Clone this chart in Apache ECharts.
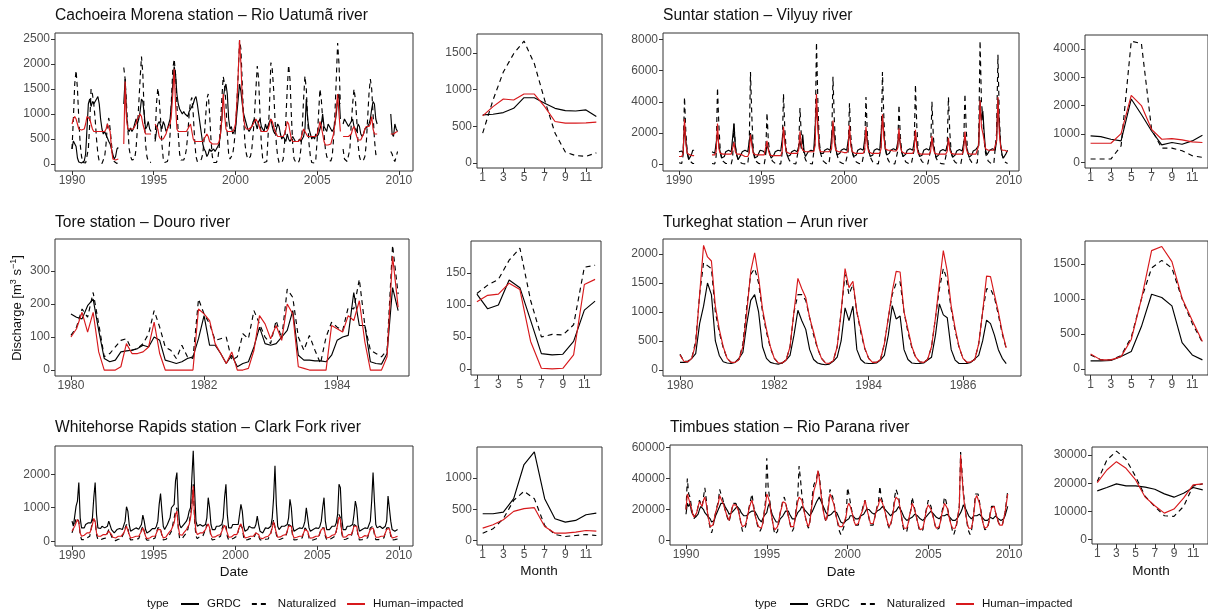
<!DOCTYPE html>
<html>
<head>
<meta charset="utf-8">
<title>Discharge</title>
<script src="https://cdn.jsdelivr.net/npm/echarts@6/dist/echarts.min.js"></script>
<style>
html,body{margin:0;padding:0;background:#fff}
#chart{width:1208px;height:613px}
</style>
</head>
<body>
<div id="chart"></div>
<script>
// ---- data (monthly) ----
var seriesNames = ['GRDC', 'Naturalized', 'Human−impacted'];
var months = [1,2,3,4,5,6,7,8,9,10,11,12];
var monthTicks = [1,3,5,7,9,11];
var yearTicks90 = [1990,1995,2000,2005,2010];
var yearTicksTore = [1980,1982,1984];
var yearTicksTurk = [1980,1982,1984,1986];

// Cachoeira Morena - Rio Uatuma, 1990-2009
var cachoeiraStart = 1990;
var cachoeiraGrdc = [
  300,460,480,350,120,40,25,20,30,60,200,700,
  1200,1300,1150,1250,1200,1250,1300,1350,1200,900,700,600,
  650,580,520,450,400,300,180,100,150,300,330,null,
  null,null,1200,1700,1000,700,650,720,650,700,680,900,
  800,900,1050,1300,1250,1000,700,750,850,700,650,null,
  null,450,650,800,850,780,700,850,780,650,700,800,
  900,1200,1600,1950,1800,1400,1200,1100,1050,1000,1050,1000,
  1000,950,1050,1100,1150,1200,1300,1350,1200,1000,800,600,
  400,300,250,150,200,300,250,280,300,250,300,350,
  400,600,900,1300,1500,1600,1400,900,700,750,600,650,
  700,1000,1300,1600,1450,1200,1000,900,800,700,650,700,
  750,850,900,800,700,850,900,750,700,650,800,700,
  700,850,900,750,650,600,700,800,750,600,500,550,
  500,450,600,500,450,500,550,500,450,480,450,500,
  450,500,550,700,1300,900,700,600,500,550,500,600,
  550,600,700,800,1000,750,700,650,800,750,700,650,
  700,800,1000,1300,1400,900,null,800,900,850,800,750,
  800,850,900,750,700,650,800,750,600,550,600,700,
  700,750,800,900,1100,1250,1200,900,800,null,null,null,
  null,null,null,null,null,null,1000,600,550,800,700,650
];
var cachoeiraNat = [
  300,900,1600,1870,1500,900,400,150,30,10,20,60,
  300,800,1500,1400,1200,900,500,200,50,10,10,30,
  150,400,800,920,700,400,150,50,20,10,50,null,
  null,null,1930,1700,1200,700,300,150,80,60,100,300,
  700,1200,1700,2150,1800,1000,400,150,50,20,30,null,
  null,500,1200,1520,1300,900,400,100,30,20,50,150,
  600,1300,1900,2100,1800,1200,600,200,80,50,80,150,
  300,600,1000,1250,1330,1000,500,150,50,30,50,100,
  200,500,900,1300,1400,1000,500,150,30,20,30,100,
  300,800,1300,1750,1600,1200,600,200,100,150,200,400,
  700,1200,1800,2480,2300,1600,900,400,200,100,80,150,
  300,600,1000,1500,1960,1700,1000,400,100,30,20,50,
  600,1200,2030,1900,1500,900,400,150,30,20,20,100,
  400,900,1500,1980,1700,1000,400,100,50,30,20,80,
  300,700,1300,1760,1500,900,400,150,30,10,20,100,
  500,1000,1500,1300,900,600,300,150,80,50,60,150,
  500,1000,1700,2420,2000,1200,null,300,100,60,50,80,
  300,800,1200,1500,1300,900,400,150,60,50,80,150,
  400,900,1400,1700,1500,1000,500,200,100,null,null,null,
  null,null,null,null,null,null,250,200,100,50,150,250
];
var cachoeiraHum = [
  800,900,950,900,800,700,680,680,680,700,800,950,
  950,900,800,700,650,650,650,650,650,650,650,650,
  650,700,800,800,650,300,100,80,80,100,100,null,
  null,null,400,1650,900,700,700,700,700,700,700,800,
  900,950,1000,950,800,700,600,600,600,600,600,null,
  null,800,800,700,550,500,500,500,550,600,700,700,
  800,1000,1400,1900,1200,700,650,650,650,650,650,650,
  650,700,750,800,650,500,450,450,450,450,450,450,
  450,500,550,600,550,450,420,400,400,400,400,400,
  450,600,900,1400,1000,700,650,650,650,650,650,700,
  800,1200,1800,2480,2000,1300,900,750,700,700,700,700,
  750,800,850,900,900,800,700,650,650,650,650,650,
  700,800,900,850,750,650,600,550,550,550,550,550,
  600,700,850,800,650,500,450,450,450,450,450,450,
  500,600,700,700,600,550,550,550,550,550,550,550,
  600,700,850,750,600,450,380,380,380,380,400,500,
  600,800,1100,1400,1000,650,null,550,550,550,550,550,
  550,600,700,750,650,550,480,480,480,500,600,700,
  750,750,750,800,950,700,600,580,600,null,null,null,
  null,null,null,null,null,null,600,600,600,620,640,650
];
var cachoeiraClimGrdc = [655,664,687,745,890,890,813,745,714,709,723,633];
var cachoeiraClimNat = [407,858,1242,1491,1663,1355,858,407,149,99,90,136];
var cachoeiraClimHum = [642,768,872,858,940,940,768,565,542,542,547,556];
var cachoeiraTicks = [0,500,1000,1500,2000,2500];
var cachoeiraClimTicks = [0,500,1000,1500];

// Suntar - Vilyuy, 1990-2009
var suntarStart = 1990;
var suntarGrdc = [
  800,900,850,700,2500,1500,700,300,400,600,900,900,
  null,null,null,null,null,null,null,null,null,null,null,null,
  800,750,700,600,2000,1200,800,400,300,500,800,900,
  900,850,800,700,2600,1100,600,300,400,600,800,900,
  900,850,800,700,2000,1500,800,400,350,500,700,900,
  900,850,800,700,1200,1000,700,400,450,600,800,900,
  900,900,850,800,2200,1500,800,500,500,600,800,900,
  900,850,800,700,1500,1000,1900,800,500,600,800,900,
  900,900,850,800,3800,2500,1200,700,600,700,900,1000,
  1000,950,900,800,2600,1800,1000,600,500,700,900,1000,
  1000,950,900,800,2000,1300,800,500,400,600,900,1000,
  1000,950,900,800,2200,1500,900,500,400,600,900,1000,
  1000,950,900,800,3000,2000,1000,600,500,700,900,1000,
  1000,950,900,800,1800,1300,800,500,450,650,900,1000,
  1000,950,900,800,1800,1300,800,500,400,600,900,1000,
  1000,950,900,800,1600,1200,800,450,400,600,850,950,
  950,900,850,800,1500,1100,800,450,400,600,850,950,
  950,900,850,800,1800,1200,800,450,400,600,850,950,
  950,1000,1200,4100,2800,3400,2000,900,600,700,900,1000,
  1000,950,900,1500,4200,2500,1200,600,400,500,700,900
];
var suntarNat = [
  100,50,50,600,4300,2000,800,400,200,100,50,50,
  null,null,null,null,null,null,null,null,null,null,null,null,
  50,20,20,500,4900,2500,900,400,200,100,50,50,
  50,20,20,400,2600,1200,600,300,150,80,50,30,
  30,20,20,800,5900,3000,1000,500,200,100,50,30,
  30,20,20,500,3300,1500,700,400,200,100,50,30,
  30,20,20,700,4500,2200,900,500,300,150,80,50,
  30,20,20,1000,3600,1800,1500,600,300,150,80,50,
  30,20,20,1500,7800,4000,1500,700,400,200,100,50,
  30,20,20,1200,5600,2800,1100,600,300,150,80,50,
  30,20,20,800,3900,1800,800,500,300,150,80,50,
  30,20,20,900,4300,2000,900,500,300,150,80,50,
  30,20,20,1200,5900,3000,1200,600,300,150,80,50,
  30,20,20,800,3800,1800,800,500,300,150,80,50,
  30,20,20,900,5100,2400,900,500,300,150,80,50,
  30,20,20,900,4000,1800,800,400,250,120,60,40,
  30,20,20,900,4300,2000,800,400,250,120,60,40,
  30,20,20,1000,4500,2100,800,400,250,120,60,40,
  30,100,1500,7900,4000,3000,1500,700,400,200,100,50,
  30,20,20,2000,7000,3000,1200,600,300,150,80,50
];
var suntarHum = [
  500,500,500,700,2900,1300,700,600,600,550,550,550,
  null,null,null,null,null,null,null,null,null,null,null,null,
  600,600,600,800,2600,1000,700,650,650,650,650,650,
  650,650,650,700,1400,800,650,650,650,650,600,550,
  500,500,500,700,1900,1200,700,600,600,600,600,600,
  600,600,600,700,1500,900,600,550,550,550,550,550,
  550,550,550,800,2400,1400,800,700,700,700,700,700,
  700,700,700,900,2100,1200,900,800,800,800,800,800,
  800,800,800,1200,4500,2400,1000,800,800,800,800,800,
  800,800,800,1000,2800,1400,900,800,800,800,800,800,
  750,750,750,900,2500,1200,800,700,700,700,700,700,
  700,700,700,900,2400,1200,800,700,700,700,700,700,
  700,700,700,1000,3200,1800,1000,900,900,900,900,900,
  850,850,850,1000,2300,1200,800,700,700,700,700,700,
  700,700,700,900,2200,1100,700,650,650,650,650,650,
  650,650,650,800,1800,1000,700,650,650,650,650,650,
  650,650,650,800,1700,900,700,650,650,650,650,650,
  650,650,650,900,2100,1000,700,650,650,650,650,650,
  650,700,1200,4100,2400,2000,1500,1000,900,900,900,900,
  900,900,900,1500,4300,2000,1100,900,900,900,850,800
];
var suntarClimGrdc = [933,909,816,758,2239,1690,1108,618,700,641,758,956];
var suntarClimNat = [117,117,117,583,4280,4200,1166,501,501,408,233,175];
var suntarClimHum = [676,676,676,1014,2367,2006,1166,816,840,793,723,700];
var suntarTicks = [0,2000,4000,6000,8000];
var suntarClimTicks = [0,1000,2000,3000,4000];

// Tore - Douro, 1980-1984
var toreStart = 1980;
var toreGrdc = [
  170,160,155,195,215,120,35,25,30,55,58,60,
  65,75,70,100,90,30,25,20,25,35,40,95,
  165,75,75,50,20,45,10,20,25,70,130,80,
  75,80,100,120,180,45,30,30,28,28,25,45,
  90,100,105,235,135,135,25,20,18,50,250,180
];
var toreNat = [
  105,130,185,160,235,140,40,50,70,90,95,60,
  65,80,110,180,130,70,60,35,75,40,35,215,
  170,140,90,95,100,30,40,110,95,180,140,100,
  80,150,95,245,220,100,60,105,60,20,100,145,
  130,120,190,185,275,135,60,50,40,60,378,230
];
var toreHum = [
  100,125,175,115,175,55,0,0,0,10,80,50,
  50,55,70,145,50,0,0,0,0,0,0,185,
  170,150,80,50,20,55,0,0,5,60,165,140,
  95,135,90,200,170,10,5,0,0,0,0,135,
  125,115,165,150,210,85,0,0,0,40,345,190
];
var toreClimGrdc = [117,94,100,139,127,76,24,22,23,43,92,106];
var toreClimNat = [118,131,140,170,189,107,50,54,53,69,159,162];
var toreClimHum = [105,115,117,134,124,43,1,0,1,22,132,140];
var toreTicks = [0,100,200,300];
var toreClimTicks = [0,50,100,150];

// Turkeghat - Arun, 1980-1986
var turkStart = 1980;
var turkGrdc = [
  130,130,140,200,280,800,1100,1500,1300,500,250,140,
  120,110,130,200,300,800,1200,1300,1000,400,200,130,
  110,100,120,170,250,600,1030,850,700,350,180,120,
  100,90,100,150,220,500,1070,850,1100,350,180,120,
  110,110,120,170,250,600,1110,880,930,350,180,120,
  110,110,120,170,220,600,1140,950,900,350,170,110,
  110,110,130,190,250,500,860,800,600,350,200,110
];
var turkNat = [
  270,150,150,200,500,1300,1850,1800,1750,1000,650,380,
  200,130,130,180,450,1100,1650,1750,1500,1000,650,380,
  200,120,120,170,400,1000,1300,1300,1200,900,600,370,
  200,120,110,160,400,1000,1650,1300,1480,1000,650,370,
  200,130,130,180,450,900,1300,1500,1520,1000,650,380,
  210,140,130,180,400,900,1400,1750,1550,1050,680,390,
  200,130,140,180,450,1000,1400,1400,1250,950,620,370
];
var turkHum = [
  260,150,140,200,450,1300,2150,1950,1880,1100,700,400,
  200,130,130,180,400,1000,1700,2020,1600,1050,700,400,
  200,120,120,170,400,1000,1580,1400,1250,900,650,380,
  200,120,110,160,400,1000,1750,1420,1530,1000,700,380,
  200,130,130,180,450,900,1350,1700,1690,1000,700,400,
  220,140,130,180,400,900,1500,2060,1700,1100,720,400,
  200,130,140,180,450,1000,1620,1610,1300,1000,650,380
];
var turkClimGrdc = [114,114,120,176,248,605,1067,1019,900,376,200,129];
var turkClimNat = [200,130,130,190,450,1000,1440,1550,1440,1000,650,380];
var turkClimHum = [214,129,129,176,420,1000,1690,1748,1533,1010,690,390];
var turkTicks = [0,500,1000,1500,2000];
var turkClimTicks = [0,500,1000,1500];

// Whitehorse Rapids - Clark Fork, 1990-2009
var whiteStart = 1990;
var whiteGrdc = [
  600,450,500,1050,1200,1750,700,400,350,400,500,550,
  550,500,550,700,1300,1750,800,400,350,380,450,400,
  400,380,450,600,550,350,300,250,300,350,400,380,
  350,350,400,600,1030,900,500,300,300,350,400,400,
  380,360,400,500,780,600,350,250,250,300,350,380,
  400,380,450,600,1100,1420,900,450,350,400,500,550,
  700,1000,1000,1100,1800,2050,1000,500,400,450,500,550,
  600,700,900,1000,1900,2700,1500,600,450,450,500,500,
  450,450,500,700,1300,1000,500,350,300,350,450,450,
  450,450,500,700,1300,1700,800,400,350,400,500,500,
  500,450,500,800,1100,900,450,300,300,350,450,450,
  400,380,400,500,750,500,300,250,250,300,400,350,
  380,400,450,700,1300,2250,1100,450,350,400,450,450,
  450,450,500,700,1250,1000,450,300,300,350,400,400,
  400,380,450,600,1000,700,400,300,300,350,400,400,
  400,380,450,600,1000,1300,600,350,300,350,400,450,
  450,450,550,800,1700,1600,700,350,300,350,450,450,
  450,420,500,800,1200,1000,500,300,300,350,400,400,
  380,380,400,600,1200,2050,1200,500,400,400,450,400,
  380,400,450,600,1350,1300,600,350,300,300,350,350
];
var whiteNat = [
  250,300,500,700,750,600,200,50,30,50,80,100,
  100,150,350,650,700,600,200,50,30,50,80,80,
  80,100,250,350,300,150,50,20,20,40,60,60,
  60,100,250,400,500,400,150,40,30,50,70,70,
  60,80,200,350,450,300,100,30,20,40,60,60,
  60,100,250,400,450,400,150,40,30,60,100,150,
  200,300,500,700,900,1000,400,80,50,80,150,200,
  250,350,550,800,1100,1700,600,150,80,100,150,150,
  150,180,350,500,550,400,120,40,30,60,100,100,
  120,150,350,500,550,500,150,40,30,60,100,100,
  100,150,300,500,550,400,120,30,20,50,80,80,
  70,80,150,250,250,150,50,20,20,40,60,60,
  70,100,250,450,650,600,200,50,30,60,100,100,
  100,150,300,500,550,450,150,40,30,50,80,80,
  70,100,250,400,400,300,100,30,20,40,70,70,
  70,100,250,400,450,400,150,40,30,50,80,100,
  100,150,300,550,800,700,250,50,30,60,100,100,
  100,150,300,500,550,450,150,40,30,50,80,80,
  70,100,250,400,450,450,200,50,30,50,80,80,
  70,100,250,400,450,400,150,40,30,50,70,70
];
var whiteHum = [
  300,350,450,550,650,550,250,150,150,180,200,250,
  250,250,350,500,680,600,250,150,120,150,180,200,
  200,200,250,300,280,200,120,100,100,120,150,150,
  150,150,250,350,450,400,200,100,100,120,150,150,
  150,150,200,300,400,300,150,80,80,100,130,150,
  150,150,250,350,380,350,200,100,100,130,180,250,
  300,350,450,550,800,900,450,200,150,180,250,300,
  350,400,500,700,1000,1650,700,300,200,200,250,250,
  250,250,350,450,520,400,200,120,100,130,170,180,
  200,200,300,400,480,500,250,120,100,130,180,200,
  200,200,300,450,520,400,200,100,100,120,150,150,
  150,150,200,250,250,200,100,80,80,100,130,150,
  150,150,250,400,580,550,250,120,100,130,170,180,
  180,200,300,450,500,450,200,100,100,120,150,150,
  150,150,250,350,350,300,150,90,90,110,140,150,
  150,150,250,350,400,400,200,100,100,120,150,180,
  200,200,300,500,720,650,300,120,100,130,180,200,
  200,200,300,450,500,450,200,100,100,120,160,170,
  150,150,250,350,400,400,250,120,100,120,150,150,
  150,150,250,350,400,380,200,100,100,120,140,150
];
var whiteClimGrdc = [428,428,454,669,1215,1417,669,348,294,321,412,438];
var whiteClimNat = [117,187,348,642,786,669,241,96,64,80,96,80];
var whiteClimHum = [198,252,332,465,509,525,225,117,117,134,160,150];
var whiteTicks = [0,1000,2000];
var whiteClimTicks = [0,500,1000];

// Timbues - Rio Parana, 1990-2009
var timbuesStart = 1990;
var timbuesGrdc = [
  17000,24000,22000,24000,19000,17000,16000,15000,14000,17000,20000,22000,
  22000,20000,18000,17000,16000,15000,14000,12000,11000,13000,16000,18000,
  20000,22000,24000,25000,24000,22000,21000,19000,17000,16000,18000,19000,
  20000,21000,22000,21000,20000,18000,17000,16000,15000,16000,17000,18000,
  18000,19000,20000,19000,18000,16000,14000,13000,12000,14000,16000,17000,
  18000,22000,24000,20000,17000,15000,14000,12000,11000,12000,14000,15000,
  16000,17000,19000,20000,19000,17000,16000,14000,13000,14000,16000,18000,
  19000,20000,22000,21000,20000,19000,18000,17000,16000,17000,19000,21000,
  23000,25000,26000,28000,27000,24000,22000,20000,18000,17000,16000,16000,
  17000,18000,19000,20000,18000,16000,14000,12000,11000,11000,12000,13000,
  13000,14000,16000,17000,16000,15000,14000,14000,14000,15000,16000,17000,
  17000,18000,20000,21000,20000,19000,18000,17000,17000,18000,19000,20000,
  20000,21000,22000,21000,20000,19000,18000,17000,16000,17000,18000,19000,
  19000,20000,22000,21000,19000,17000,15000,14000,13000,13000,14000,15000,
  15000,16000,17000,17000,16000,15000,14000,13000,13000,14000,15000,16000,
  17000,18000,19000,18000,17000,16000,15000,14000,14000,15000,16000,16000,
  16000,17000,17000,16000,15000,14000,13000,13000,13000,14000,15000,16000,
  18000,20000,23000,22000,20000,18000,16000,15000,14000,15000,16000,16000,
  16000,17000,17000,16000,15000,14000,13000,13000,13000,14000,15000,15000,
  14000,15000,16000,15000,14000,13000,13000,13000,14000,16000,19000,22000
];
var timbuesNat = [
  20000,40000,30000,28000,22000,16000,14000,15000,18000,22000,26000,25000,
  22000,28000,34000,27000,18000,12000,8000,5000,8000,14000,18000,22000,
  25000,33000,30000,28000,24000,20000,17000,14000,12000,16000,20000,24000,
  25000,24000,23000,20000,15000,10000,6000,5000,8000,12000,18000,22000,
  26000,30000,24000,18000,14000,10000,8000,6000,5000,10000,18000,25000,
  53000,35000,28000,20000,14000,8000,4000,3000,6000,12000,18000,22000,
  26000,28000,25000,20000,16000,12000,8000,6000,8000,14000,22000,28000,
  48000,40000,30000,24000,18000,14000,10000,8000,12000,20000,30000,36000,
  38000,40000,45000,42000,34000,26000,20000,15000,12000,16000,25000,33000,
  30000,28000,24000,18000,14000,10000,6000,4000,5000,8000,12000,16000,
  34000,30000,25000,20000,16000,12000,10000,9000,10000,14000,18000,20000,
  24000,26000,22000,18000,14000,10000,9000,10000,14000,18000,22000,25000,
  35000,28000,25000,22000,18000,14000,10000,8000,10000,14000,20000,28000,
  33000,32000,28000,22000,16000,10000,6000,5000,6000,10000,16000,20000,
  28000,24000,20000,16000,12000,8000,6000,5000,7000,12000,18000,22000,
  26000,24000,22000,18000,14000,10000,7000,6000,8000,12000,18000,22000,
  28000,26000,22000,18000,14000,10000,6000,4000,5000,10000,16000,22000,
  57000,45000,32000,24000,16000,10000,6000,4000,6000,12000,20000,30000,
  31000,30000,25000,20000,14000,10000,7000,6000,8000,12000,18000,22000,
  23000,22000,18000,15000,12000,10000,9000,10000,14000,18000,25000,32000
];
var timbuesHum = [
  20000,30000,27000,26000,21000,17000,15000,15000,18000,22000,25000,24000,
  22000,26000,28000,24000,18000,13000,9000,8000,10000,14000,18000,21000,
  24000,29000,27000,26000,23000,20000,17000,15000,13000,16000,20000,23000,
  24000,23000,22000,19000,15000,11000,9000,9000,10000,13000,17000,21000,
  24000,26000,22000,18000,14000,11000,9000,8000,8000,11000,17000,22000,
  30000,28000,25000,19000,14000,9000,7000,7000,9000,13000,18000,21000,
  25000,26000,24000,20000,16000,12000,9000,8000,9000,14000,20000,25000,
  28000,28000,26000,22000,18000,14000,11000,9000,12000,19000,26000,32000,
  35000,38000,45000,40000,32000,25000,19000,15000,13000,16000,23000,30000,
  28000,27000,23000,18000,14000,11000,9000,8000,9000,10000,13000,16000,
  22000,24000,22000,19000,16000,12000,10000,10000,11000,14000,17000,19000,
  22000,26000,22000,18000,15000,11000,10000,11000,14000,18000,21000,23000,
  27000,26000,24000,21000,18000,14000,11000,9000,11000,14000,19000,25000,
  28000,29000,26000,21000,16000,11000,8000,7000,8000,11000,16000,19000,
  24000,22000,19000,16000,12000,9000,7000,7000,8000,12000,17000,21000,
  23000,22000,20000,17000,14000,10000,8000,7000,9000,12000,17000,20000,
  24000,25000,21000,17000,13000,10000,8000,7000,8000,11000,16000,21000,
  55000,42000,30000,22000,16000,11000,8000,7000,8000,12000,19000,27000,
  29000,28000,24000,19000,14000,10000,8000,7000,9000,12000,17000,21000,
  22000,22000,18000,15000,12000,10000,9000,10000,14000,18000,24000,30000
];
var timbuesClimGrdc = [17290,18500,19760,19060,19060,18600,17880,16230,15060,16470,18470,17650];
var timbuesClimNat = [20580,28230,31400,28460,22350,15300,11760,8470,8240,11760,19060,19760];
var timbuesClimHum = [20230,24700,27650,25290,21180,15060,12000,9410,10830,14700,19410,19760];
var timbuesTicks = [0,20000,40000,60000];
var timbuesClimTicks = [0,10000,20000,30000];

// ---- panels ----
var panels = [
  {title:'Cachoeira Morena station – Rio Uatumã river', start:cachoeiraStart,
   ts:[cachoeiraGrdc,cachoeiraNat,cachoeiraHum], clim:[cachoeiraClimGrdc,cachoeiraClimNat,cachoeiraClimHum],
   xTicks:yearTicks90, yTicks:cachoeiraTicks, climTicks:cachoeiraClimTicks},
  {title:'Suntar station – Vilyuy river', start:suntarStart,
   ts:[suntarGrdc,suntarNat,suntarHum], clim:[suntarClimGrdc,suntarClimNat,suntarClimHum],
   xTicks:yearTicks90, yTicks:suntarTicks, climTicks:suntarClimTicks},
  {title:'Tore station – Douro river', start:toreStart,
   ts:[toreGrdc,toreNat,toreHum], clim:[toreClimGrdc,toreClimNat,toreClimHum],
   xTicks:yearTicksTore, yTicks:toreTicks, climTicks:toreClimTicks},
  {title:'Turkeghat station – Arun river', start:turkStart,
   ts:[turkGrdc,turkNat,turkHum], clim:[turkClimGrdc,turkClimNat,turkClimHum],
   xTicks:yearTicksTurk, yTicks:turkTicks, climTicks:turkClimTicks},
  {title:'Whitehorse Rapids station – Clark Fork river', start:whiteStart,
   ts:[whiteGrdc,whiteNat,whiteHum], clim:[whiteClimGrdc,whiteClimNat,whiteClimHum],
   xTicks:yearTicks90, yTicks:whiteTicks, climTicks:whiteClimTicks},
  {title:'Timbues station – Rio Parana river', start:timbuesStart,
   ts:[timbuesGrdc,timbuesNat,timbuesHum], clim:[timbuesClimGrdc,timbuesClimNat,timbuesClimHum],
   xTicks:yearTicks90, yTicks:timbuesTicks, climTicks:timbuesClimTicks}
];

// layout: boxes are [left, top, right, bottom] in px, ranges are axis extents
var layout = [
  {title:[55,8],   ts:{box:[55,33,413,171],  x:[1988.96,2010.86], y:[-140,2620]},   clim:{box:[477,34,602,168],  y:[-70,1760]}},
  {title:[663,8],  ts:{box:[663,33,1019,171], x:[1989.03,2010.61], y:[-430,8400]},  clim:{box:[1085,35,1209,168], y:[-200,4500]}},
  {title:[55,215], ts:{box:[55,239,409,376], x:[1979.76,1985.08], y:[-18,397]},     clim:{box:[471,241,601,375], y:[-9.5,200]}},
  {title:[663,215],ts:{box:[663,239,1021,376],x:[1979.64,1987.23], y:[-105,2260]},  clim:{box:[1085,241,1209,375],y:[-87,1827]}},
  {title:[55,420], ts:{box:[55,446,413,546], x:[1988.96,2010.86], y:[-140,2840]},   clim:{box:[477,447,602,545], y:[-72,1495]}},
  {title:[670,420],ts:{box:[670,445,1022,545],x:[1989.01,2010.80], y:[-2800,61500]},clim:{box:[1092,447,1208,544],y:[-1550,32850]}}
];

var FONT = '"Liberation Sans", Arial, Helvetica, sans-serif';
var lineLook = {
  'GRDC': {color:'#000000', type:'solid'},
  'Naturalized': {color:'#000000', type:[5,4]},
  'Human−impacted': {color:'#d7191c', type:'solid'}
};

var grids = [], xAxes = [], yAxes = [], series = [], titles = [];

function makeAxis(g, range, ticks, margin) {
  return {
    type:'value', gridIndex:g, min:range[0], max:range[1],
    splitLine:{show:false},
    axisLine:{show:false, onZero:false},
    axisTick:{show:true, length:4, customValues:ticks, lineStyle:{color:'#333333', width:1}},
    axisLabel:{show:true, customValues:ticks, color:'#4d4d4d', fontSize:12, fontFamily:FONT, margin:margin,
      formatter:function(v){ return String(v); }}
  };
}

function addPanel(box, xRange, yRange, xTicks, yTicks, xs, lists) {
  var g = grids.length;
  grids.push({left:box[0], top:box[1], width:box[2]-box[0], height:box[3]-box[1],
    show:true, borderColor:'#333333', borderWidth:1, backgroundColor:'rgba(0,0,0,0)', containLabel:false});
  xAxes.push(makeAxis(g, xRange, xTicks, 4));
  yAxes.push(makeAxis(g, yRange, yTicks, 5));
  seriesNames.forEach(function(name, j){
    series.push({
      type:'line', name:name, xAxisIndex:g, yAxisIndex:g,
      symbol:'none', showSymbol:false, connectNulls:false, silent:true, animation:false,
      lineStyle:{color:lineLook[name].color, width:1.15, type:lineLook[name].type},
      itemStyle:{color:lineLook[name].color},
      data:xs.map(function(x, i){ var v = lists[j][i]; return [x, v === null ? '-' : v]; })
    });
  });
}

panels.forEach(function(p, k){
  var L = layout[k];
  var tsX = p.ts[0].map(function(_, i){ return p.start + i / 12; });
  addPanel(L.ts.box, L.ts.x, L.ts.y, p.xTicks, p.yTicks, tsX, p.ts);
  addPanel(L.clim.box, [0.45, 12.55], L.clim.y, monthTicks, p.climTicks, months, p.clim);
  titles.push({text:p.title, left:L.title[0], top:L.title[1], padding:0,
    textStyle:{fontSize:15.6, fontWeight:'normal', color:'#111111', fontFamily:FONT}});
});

function label(text, x, y, size, align) {
  return {type:'text', x:x, y:y, silent:true,
    style:{text:text, fontSize:size, fontFamily:FONT, fill:'#111111', align:align || 'center', verticalAlign:'middle'}};
}

var legendBase = {
  data:seriesNames, orient:'horizontal', itemWidth:18, itemHeight:12, itemGap:10,
  selectedMode:false, padding:0,
  itemStyle:{opacity:0, borderWidth:0},
  textStyle:{fontSize:11.5, fontFamily:FONT, color:'#111111', padding:[0,0,0,3]}
};

var chart = echarts.init(document.getElementById('chart'), null, {renderer:'canvas'});
chart.setOption({
  backgroundColor:'#ffffff',
  animation:false,
  title:titles,
  grid:grids,
  xAxis:xAxes,
  yAxis:yAxes,
  series:series,
  legend:[
    Object.assign({left:180, top:598}, legendBase),
    Object.assign({left:789, top:598}, legendBase)
  ],
  graphic:[
    label('Date', 234, 572, 13.5),
    label('Date', 841, 572, 13.5),
    label('Month', 539, 571, 13.5),
    label('Month', 1151, 571, 13.5),
    label('type', 147, 604, 11.5, 'left'),
    label('type', 755, 604, 11.5, 'left'),
    {type:'text', x:17, y:308, rotation:Math.PI/2, silent:true,
      style:{text:'Discharge [m{s|3} s{s|−1}]', fontSize:13, fontFamily:FONT, fill:'#111111',
        align:'center', verticalAlign:'middle', lineHeight:16,
        rich:{s:{fontSize:9, fontFamily:FONT, fill:'#111111', verticalAlign:'top', lineHeight:16}}}}
  ]
});
</script>
</body>
</html>
